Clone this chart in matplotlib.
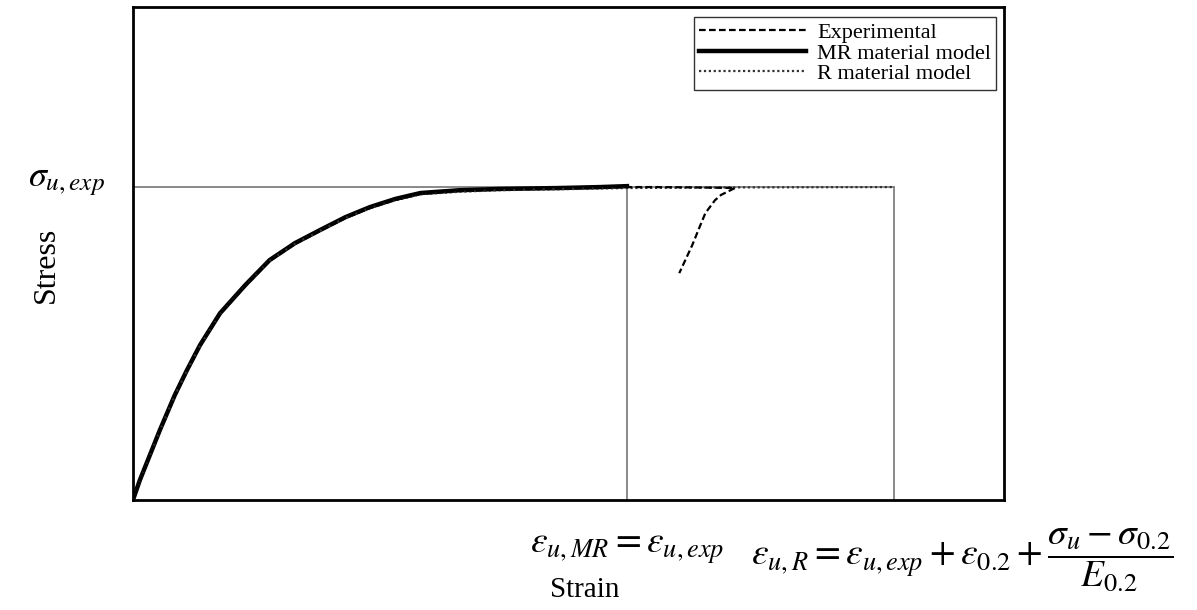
import matplotlib
matplotlib.use("Agg")
import matplotlib.pyplot as plt
import numpy as np

# normalised stress-strain data (sigma_u = 1)
strain_mr = [0.0, 0.008, 0.0195, 0.031, 0.048, 0.062, 0.077, 0.100, 0.129, 0.157, 0.186, 0.215,
             0.244, 0.272, 0.301, 0.330, 0.375, 0.421, 0.490, 0.536, 0.567]
stress_mr = [0.0, 0.064, 0.144, 0.224, 0.335, 0.415, 0.495, 0.597, 0.687, 0.767, 0.821, 0.863,
             0.904, 0.936, 0.962, 0.981, 0.990, 0.994, 0.997, 1.000, 1.003]

strain_exp = [0.0, 0.008, 0.0195, 0.031, 0.048, 0.062, 0.077, 0.100, 0.129, 0.157, 0.186, 0.215,
              0.244, 0.272, 0.301, 0.330, 0.375, 0.421, 0.490, 0.567,
              0.600, 0.640, 0.691, 0.675, 0.668, 0.657, 0.650, 0.642, 0.627]
stress_exp = [0.0, 0.062, 0.141, 0.221, 0.332, 0.412, 0.492, 0.594, 0.684, 0.764, 0.818, 0.860,
              0.901, 0.933, 0.959, 0.978, 0.988, 0.992, 0.995, 1.000,
              1.000, 0.999, 0.997, 0.975, 0.958, 0.917, 0.870, 0.815, 0.725]

strain_r = [0.0, 0.008, 0.0195, 0.031, 0.048, 0.062, 0.077, 0.100, 0.129, 0.157, 0.186, 0.215,
            0.244, 0.272, 0.301, 0.330, 0.375, 0.421, 0.490, 0.567, 0.700, 0.874]
stress_r = [0.0, 0.063, 0.142, 0.222, 0.333, 0.413, 0.493, 0.595, 0.685, 0.765, 0.819, 0.861,
            0.901, 0.933, 0.958, 0.977, 0.985, 0.990, 0.993, 0.997, 0.999, 1.000]

sigma_u = 1.0
eps_u_mr = 0.567
eps_u_r = 0.874

plt.rcParams['font.family'] = ['Liberation Serif', 'DejaVu Serif']
plt.rcParams['mathtext.fontset'] = 'stix'

fig = plt.figure(figsize=(11.97, 6.10), dpi=100)
ax = fig.add_axes([0.111, 0.180, 0.728, 0.8085])

# reference lines
ax.plot([0, eps_u_r], [sigma_u, sigma_u], color='#808080', lw=1.3, zorder=1)
ax.plot([eps_u_mr, eps_u_mr], [0, sigma_u], color='#808080', lw=1.3, zorder=1)
ax.plot([eps_u_r, eps_u_r], [0, sigma_u], color='#808080', lw=1.3, zorder=1)

ax.plot(strain_exp, stress_exp, color='black', ls=(0, (3, 1.5)), lw=1.6, label='Experimental', zorder=3)
ax.plot(strain_mr, stress_mr, color='black', ls='-', lw=3.2, solid_joinstyle='round',
        label='MR material model', zorder=2)
ax.plot(strain_r, stress_r, color='#333333', ls=(0, (1, 1.2)), lw=1.6, label='R material model', zorder=2)

ax.set_xlim(0, 1.0)
ax.set_ylim(0, 1.575)
ax.set_xticks([])
ax.set_yticks([])
for s in ax.spines.values():
    s.set_linewidth(2.0)

ax.set_xlabel('Strain', fontsize=21)
ax.xaxis.set_label_coords(0.519, -0.155)
ax.set_ylabel('Stress', fontsize=23)
ax.yaxis.set_label_coords(-0.083, 0.477)

ax.annotate(r'$\sigma_{u,exp}$', xy=(0, sigma_u), xycoords=('axes fraction', 'data'),
            xytext=(-20, 4), textcoords='offset points', ha='right', va='center', fontsize=26)
ax.annotate(r'$\varepsilon_{u,MR}=\varepsilon_{u,exp}$', xy=(eps_u_mr, 0), xycoords='data',
            xytext=(0, -35), textcoords='offset points', ha='center', va='center', fontsize=27)
ax.annotate(r'$\varepsilon_{u,R}=\varepsilon_{u,exp}+\varepsilon_{0.2}+\dfrac{\sigma_u-\sigma_{0.2}}{E_{0.2}}$',
            xy=(eps_u_r, 0), xycoords='data',
            xytext=(-103, -43), textcoords='offset points', ha='left', va='center', fontsize=27)

leg = ax.legend(loc='upper right', bbox_to_anchor=(0.991, 0.980), fontsize=16, frameon=True,
                fancybox=False, edgecolor='black', handlelength=4.8, handletextpad=0.5,
                labelspacing=0.0, borderpad=0.25, borderaxespad=0)
leg.get_frame().set_linewidth(1.0)

fig.savefig('out.png', dpi=100)
